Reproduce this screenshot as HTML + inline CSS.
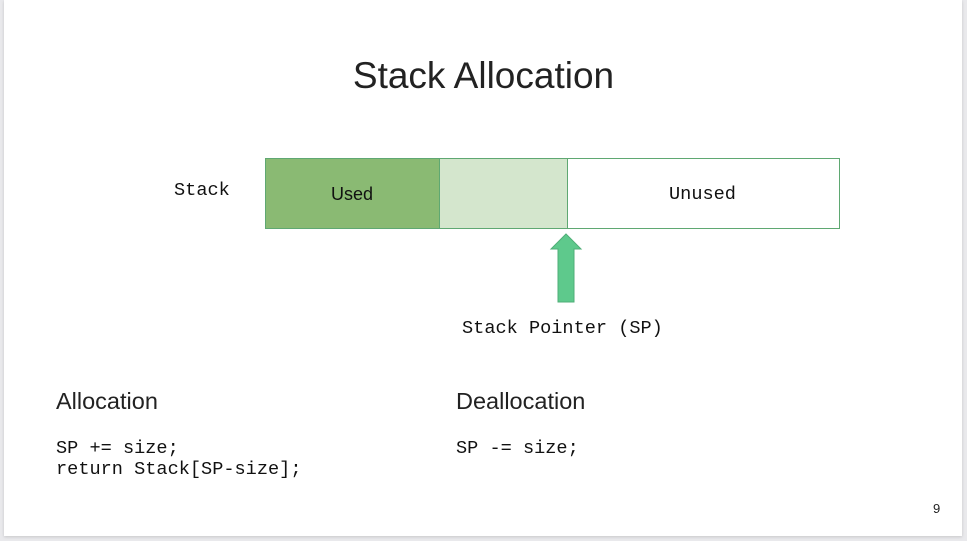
<!DOCTYPE html>
<html><head><style>
body{margin:0;width:967px;height:541px;background:#e9e9ec;position:relative;overflow:hidden;font-family:"Liberation Sans",sans-serif;}
#s{position:absolute;left:4px;top:0;width:958px;height:536px;background:#fff;box-shadow:0 1px 3px rgba(0,0,0,.15);}
.t{position:absolute;white-space:nowrap;color:#222;}
.m{font-family:"Liberation Mono",monospace;font-size:18.6px;color:#111;}
</style></head><body>
<div id="s"></div>
<div class="t" style="left:0;width:967px;text-align:center;top:55px;font-size:37px;">Stack Allocation</div>
<div class="t m" style="left:174px;top:180px;">Stack</div>
<svg style="position:absolute;left:0;top:0" width="967" height="541">
<rect x="265.5" y="158.5" width="174" height="70" fill="#8aba73" stroke="#5fa872"/>
<rect x="439.5" y="158.5" width="128" height="70" fill="#d4e6cd" stroke="#5fa872"/>
<rect x="567.5" y="158.5" width="272" height="70" fill="#fff" stroke="#5fa872"/>
<polygon points="566,234 581,249 574,249 574,302 558,302 558,249 551,249" fill="#5ec98c" stroke="#4fae77"/>
</svg>
<div class="t" style="left:331px;top:184px;font-size:18px;color:#111;">Used</div>
<div class="t m" style="left:669px;top:184px;">Unused</div>
<div class="t m" style="left:462px;top:318px;">Stack Pointer (SP)</div>
<div class="t" style="left:56px;top:388px;font-size:23.5px;">Allocation</div>
<div class="t" style="left:456px;top:388px;font-size:23.5px;">Deallocation</div>
<div class="t m" style="left:56px;top:438px;line-height:21px;">SP += size;<br>return Stack[SP-size];</div>
<div class="t m" style="left:456px;top:438px;">SP -= size;</div>
<div class="t" style="left:933px;top:501px;font-size:13px;">9</div>
</body></html>
